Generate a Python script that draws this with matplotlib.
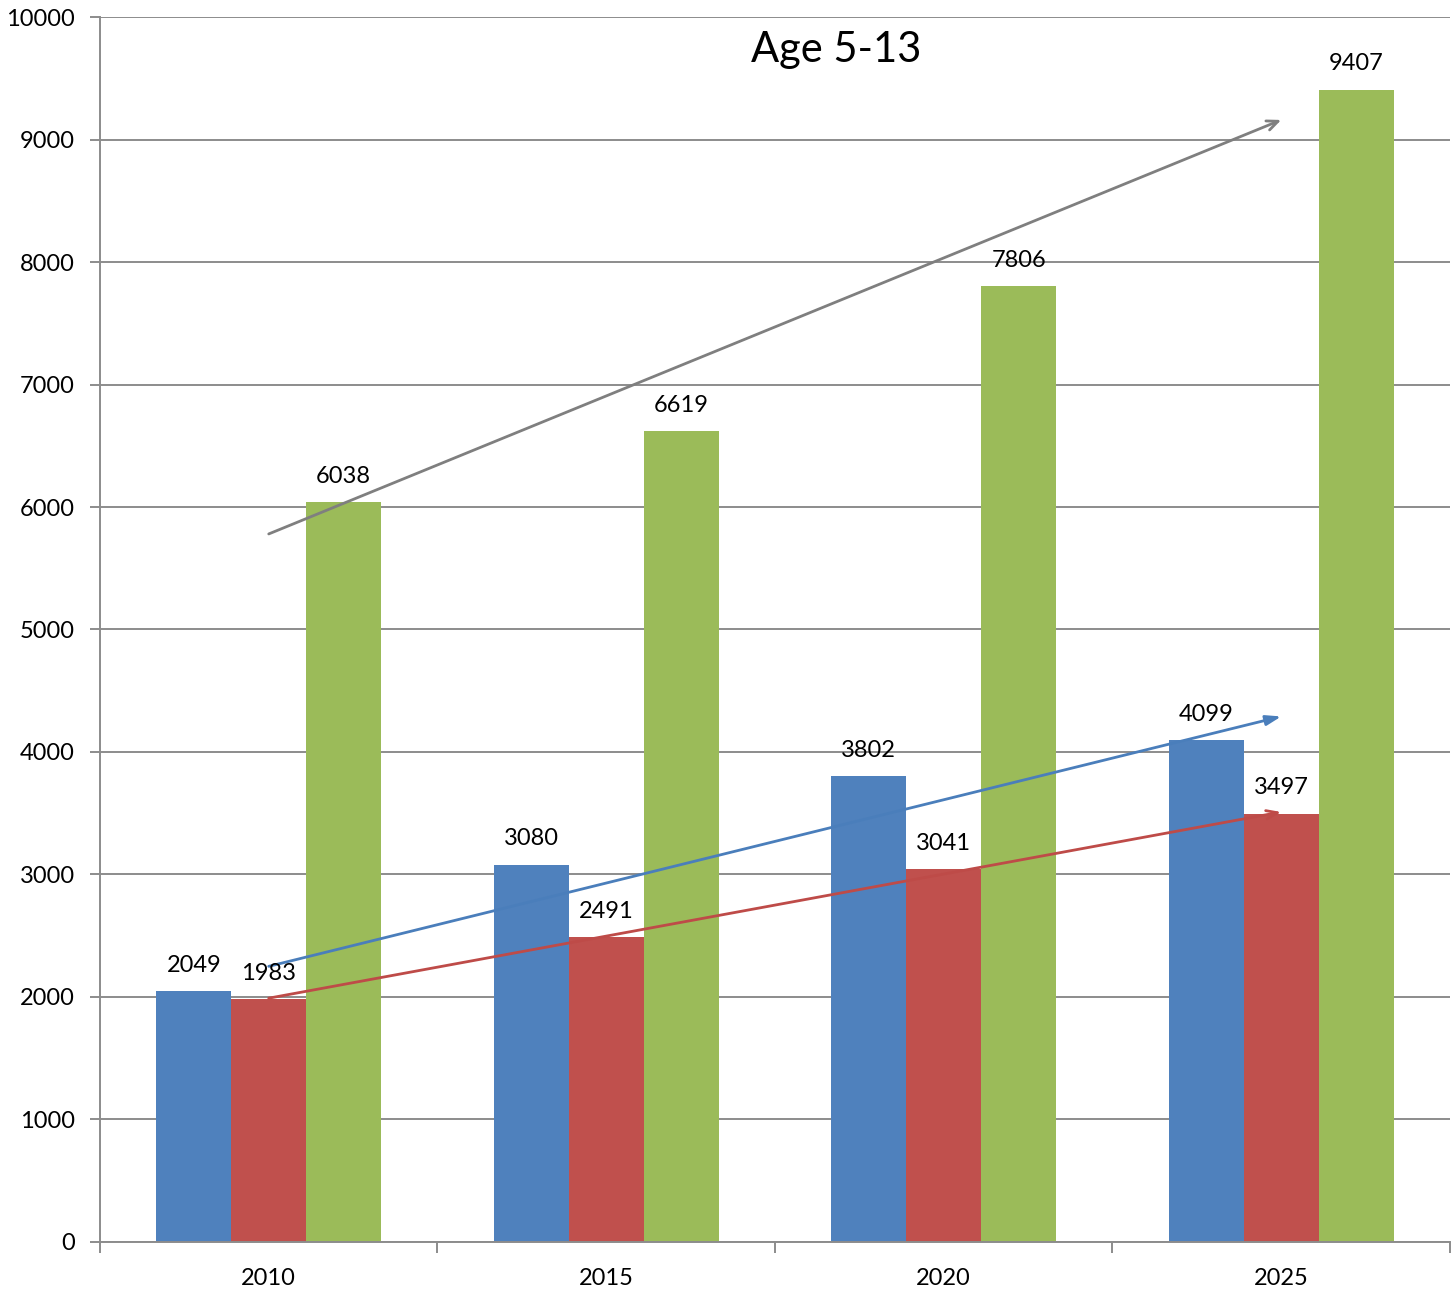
import matplotlib
matplotlib.use("Agg")
import matplotlib.pyplot as plt
import numpy as np

# Data
years = ["2010", "2015", "2020", "2025"]
series_blue = [2049, 3080, 3802, 4099]
series_red = [1983, 2491, 3041, 3497]
series_green = [6038, 6619, 7806, 9407]

# Trend arrows (start value at first year, end value at last year)
trend_gray = [5780, 9160]
trend_blue = [2250, 4290]
trend_red = [1990, 3510]

plt.rcParams["font.family"] = ["Lato", "DejaVu Sans"]

fig = plt.figure(figsize=(14.51, 12.91), dpi=100)
ax = fig.add_axes([0.0689, 0.038, 0.9304, 0.9488])

x = np.arange(len(years))
w = 0.222
colors = ["#4F81BD", "#C0504D", "#9BBB59"]
for i, (vals, c) in enumerate(zip([series_blue, series_red, series_green], colors)):
    ax.bar(x + (i - 1) * w, vals, width=w, color=c, zorder=2, linewidth=0)
    for xi, v in zip(x + (i - 1) * w, vals):
        ax.annotate(f"{v}", (xi, v), xytext=(0, 18.5), textcoords="offset points",
                    ha="center", va="center", fontsize=17, color="black", zorder=5)

ax.set_xlim(-0.5, 3.5)
ax.set_ylim(0, 10000)
ax.set_yticks(np.arange(0, 10001, 1000))
ax.yaxis.grid(True, color="#8C8C8C", linewidth=1.4, zorder=0)
ax.set_axisbelow(True)

ax.set_xticks(x)
ax.set_xticklabels(years, fontsize=17)
ax.set_xticks(np.arange(-0.5, 4.0, 1.0), minor=True)
ax.tick_params(axis="x", which="major", length=0, pad=19)
ax.tick_params(axis="x", which="minor", length=8, width=1.4, color="#8C8C8C")
ax.tick_params(axis="y", length=7, width=1.4, color="#8C8C8C", labelsize=17, pad=11)

for s in ["top", "right"]:
    ax.spines[s].set_visible(False)
for s in ["left", "bottom"]:
    ax.spines[s].set_color("#8C8C8C")
    ax.spines[s].set_linewidth(1.4)

# Trend arrows
ax.annotate("", xy=(3, trend_gray[1]), xytext=(0, trend_gray[0]),
            arrowprops=dict(arrowstyle="->,head_length=0.8,head_width=0.35",
                            color="#7F7F7F", lw=2, shrinkA=0, shrinkB=0), zorder=4)
ax.annotate("", xy=(3, trend_blue[1]), xytext=(0, trend_blue[0]),
            arrowprops=dict(arrowstyle="-|>,head_length=0.9,head_width=0.3",
                            color="#4A7EBB", lw=2, shrinkA=0, shrinkB=0), zorder=4)
ax.annotate("", xy=(3, trend_red[1]), xytext=(0, trend_red[0]),
            arrowprops=dict(arrowstyle="->,head_length=0.8,head_width=0.3",
                            color="#BE4B48", lw=2, shrinkA=0, shrinkB=0), zorder=4)

ax.text(0.545, 0.973, "Age 5-13", transform=ax.transAxes, ha="center", va="center",
        fontsize=30, color="black")

fig.savefig("out.png", dpi=100)
